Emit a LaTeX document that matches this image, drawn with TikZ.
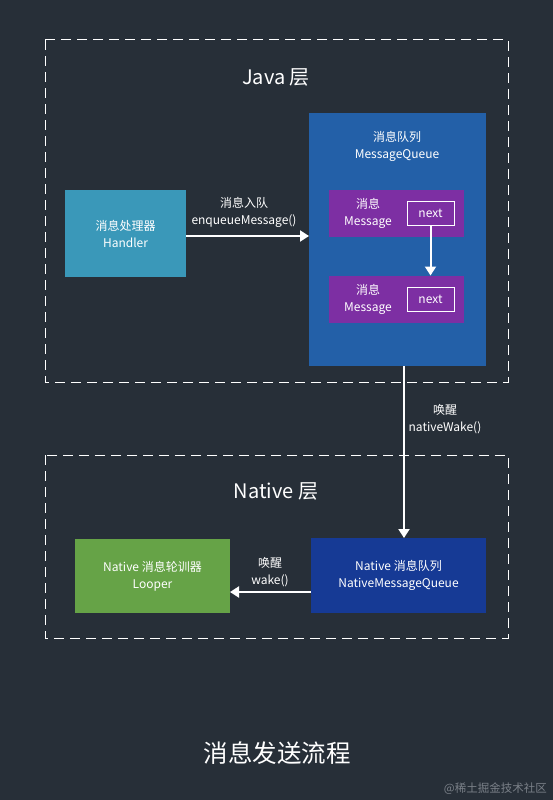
\documentclass[tikz,border=0pt]{standalone}
\usepackage{fontspec}
\setmainfont{Noto Sans CJK SC}
\usetikzlibrary{arrows.meta}
\definecolor{bg}{HTML}{272F38}
\definecolor{handlerc}{HTML}{3A98B9}
\definecolor{mqc}{HTML}{2360A8}
\definecolor{msgc}{HTML}{7D2FA3}
\definecolor{looperc}{HTML}{66A347}
\definecolor{nmqc}{HTML}{163A95}
\definecolor{wm}{HTML}{7A8088}
\tikzset{
  layer/.style={draw=white, line width=1pt, dash pattern=on 10pt off 6pt},
  box/.style={inner sep=0pt, outer sep=0pt, text=white, align=center, font=\fontsize{12}{17}\selectfont},
  nextbox/.style={draw=white, line width=1pt, inner sep=0pt, outer sep=0pt, text=white, font=\fontsize{12}{13}\selectfont},
  lbl/.style={text=white, align=center, font=\fontsize{12}{17}\selectfont, inner sep=0pt},
  conn/.style={draw=white, line width=2pt, -{Triangle[width=11pt,length=9pt]}},
  title/.style={text=white, font=\fontsize{20}{22}\selectfont, inner sep=0pt}
}
\begin{document}
\begin{tikzpicture}[x=1pt,y=-1pt]
\fill[bg] (0,0) rectangle (553,800);
\useasboundingbox (0,0) rectangle (553,800);
% layers
\draw[layer] (45,40) rectangle (508,382);
\draw[layer] (45,455) rectangle (508,638);
\node[title] (javat) at (276,77) {Java 层};
\node[title] (nativet) at (276,491) {Native 层};
% Java boxes
\node[box, fill=handlerc, minimum width=121pt, minimum height=87pt] (handler) at (125.5,233.5) {消息处理器\\Handler};
\fill[mqc] (309,113) rectangle (486,366);
\node[inner sep=0pt, outer sep=0pt, minimum width=177pt, minimum height=253pt] (mq) at (397.5,239.5) {};
\node[lbl] (mqt) at (397,146) {消息队列\\MessageQueue};
\node[box, fill=msgc, minimum width=135pt, minimum height=47pt] (msg1) at (396.5,213.5) {};
\node[lbl] (msg1t) at (368,213.5) {消息\\Message};
\node[nextbox, minimum width=47pt, minimum height=24pt] (next1) at (430.5,213) {next};
\node[box, fill=msgc, minimum width=135pt, minimum height=47pt] (msg2) at (396.5,299) {};
\node[lbl] (msg2t) at (368,299) {消息\\Message};
\node[nextbox, minimum width=47pt, minimum height=24pt] (next2) at (430.5,299) {next};
% Native boxes
\node[box, fill=looperc, minimum width=155pt, minimum height=74pt] (looper) at (152.5,576) {Native 消息轮训器\\Looper};
\node[box, fill=nmqc, minimum width=175pt, minimum height=75pt] (nmq) at (398.5,575.5) {Native 消息队列\\NativeMessageQueue};
% connectors
\draw[conn] (handler.east |- 0,236) -- (mq.west |- 0,236);
\node[lbl] (enq) at (244,212.5) {消息入队\\enqueueMessage()};
\draw[conn] (next1.south) -- (msg2.north -| next1.south);
\draw[conn] (mq.south -| 404,0) -- (nmq.north -| 404,0);
\node[lbl] (wake1) at (445,419.5) {唤醒\\nativeWake()};
\draw[conn] (nmq.west |- 0,592) -- (looper.east |- 0,592);
\node[lbl] (wake2) at (270,572) {唤醒\\wake()};
% titles
\node[text=white, font=\fontsize{24.5}{26}\selectfont, inner sep=0pt] (main) at (277,753) {消息发送流程};
\node[text=wm, font=\fontsize{11.5}{12}\selectfont, inner sep=0pt, anchor=east] (wmk) at (547,789) {@稀土掘金技术社区};
\end{tikzpicture}
\end{document}
